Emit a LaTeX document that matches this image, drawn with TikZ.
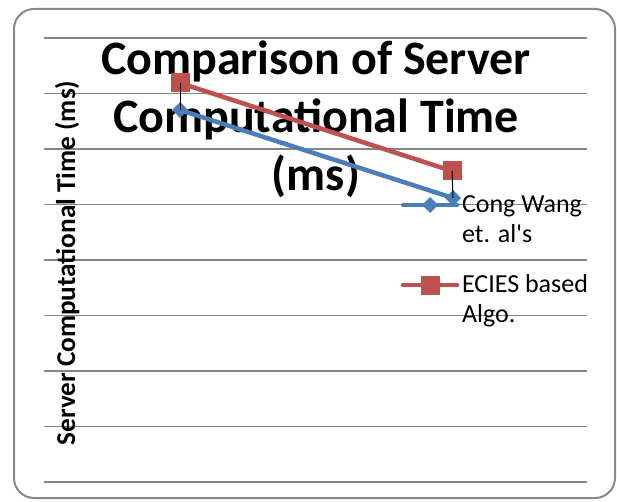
\documentclass[tikz,border=0pt]{standalone}
\usepackage{fontspec}
\setmainfont{Carlito}
\usetikzlibrary{positioning}
\usetikzlibrary{shapes.geometric}

\definecolor{seriesred}{RGB}{192,80,77}
\definecolor{seriesblue}{RGB}{74,126,187}
\definecolor{gridgray}{RGB}{134,134,134}
\definecolor{framegray}{RGB}{137,137,137}

\begin{document}
\begin{tikzpicture}[x=1pt, y=-1pt,
    inner sep=0pt, outer sep=0pt,%
    gridline/.style={color=gridgray, line width=1.5pt},
    series/.style={color=#1, line width=4.5pt, line cap=round, line join=round},
    bluemark/.style={diamond, aspect=1, fill=seriesblue, minimum size=16pt},
    redmark/.style={rectangle, fill=seriesred, minimum size=19pt},
    droptick/.style={black, line width=1pt},
    legendtext/.style={anchor=base west, align=left, font=\fontsize{26}{30}\selectfont},
]
    \useasboundingbox (0,0) rectangle (617,502);

    % Chart area
    \draw[color=framegray, line width=2pt, rounded corners=20pt] (14,9) rectangle (615,498);

    % Gridlines
    \foreach \y in {38,93.5,...,482}
        \draw[gridline] (44,\y) -- (587,\y);

    % Titles (base = baseline of last line)
    \node[anchor=base, align=center, font=\bfseries\fontsize{48}{58}\selectfont] (title)
        at (316,191) {Comparison of Server\\Computational Time\\(ms)};
    \node[rotate=90, anchor=base, font=\bfseries\fontsize{27.2}{30}\selectfont] (ylabel)
        at (75,263) {Server Computational Time (ms)};

    % Data points
    \coordinate (r1) at (180,83);
    \coordinate (r2) at (452,171);
    \coordinate (b1) at (180,110);
    \coordinate (b2) at (453,198);

    \draw[series=seriesred]  (r1) -- (r2); % ECIES
    \draw[series=seriesblue] (b1) -- (b2); % Cong Wang
    \node[redmark]  (rm1) at (r1) {};
    \node[redmark]  (rm2) at (r2) {};
    \node[bluemark] (bm1) at (b1) {};
    \node[bluemark] (bm2) at (b2) {};

    % High-low lines
    \draw[droptick] (rm1.center) -- (bm1.center);
    \draw[droptick] (rm2.center) -- (bm2.center);

    % Legend
    \coordinate (lb) at (430,205);
    \coordinate (lr) at (430,285);
    \draw[series=seriesblue] ([xshift=-27pt]lb) -- ([xshift=27pt]lb);
    \node[bluemark] (lbm) at (lb) {};
    \node[legendtext] (lbt) at (462,243) {Cong Wang\\et. al\textquotesingle s};
    \draw[series=seriesred] ([xshift=-27pt]lr) -- ([xshift=27pt]lr);
    \node[redmark] (lrm) at (lr) {};
    \node[legendtext] (lrt) at (462,322) {ECIES based\\Algo.};
\end{tikzpicture}
\end{document}
